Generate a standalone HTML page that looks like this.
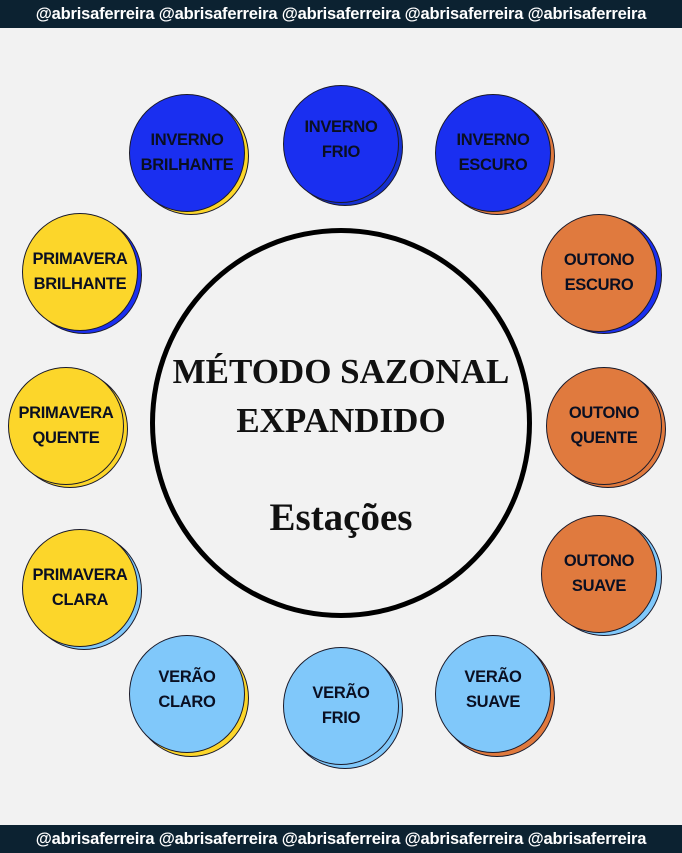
<!DOCTYPE html>
<html><head><meta charset="utf-8"><style>
body{margin:0;width:682px;height:853px;background:#f2f2f2;position:relative;overflow:hidden;font-family:"Liberation Sans",sans-serif}
.bar{position:absolute;left:0;width:682px;height:28px;background:#0c2231;color:#fff;font-weight:bold;font-size:16.5px;line-height:28px;text-align:center;white-space:nowrap;letter-spacing:-0.2px}
.c{position:absolute;width:116px;height:118px;border-radius:50%;border:1.5px solid #1a1a2a;box-sizing:border-box;display:flex;align-items:center;justify-content:center;text-align:center;font-weight:bold;font-size:16.5px;line-height:25px;color:#0a0f22;letter-spacing:-0.3px}
.s{position:absolute;width:116px;height:118px;border-radius:50%;border:1.5px solid #1a1a2a;box-sizing:border-box}
.b{background:#1a2ff0}.y{background:#fcd62a}.o{background:#e07a3e}.l{background:#80c8fa}
.big{position:absolute;left:150px;top:228px;width:382px;height:390px;border:5px solid #000;border-radius:50%;box-sizing:border-box}
.t{position:absolute;left:0;width:682px;text-align:center;font-family:"Liberation Serif",serif;font-weight:bold;color:#111}
</style></head><body>
<div class="bar" style="top:0">@abrisaferreira @abrisaferreira @abrisaferreira @abrisaferreira @abrisaferreira</div>
<div class="bar" style="top:825px">@abrisaferreira @abrisaferreira @abrisaferreira @abrisaferreira @abrisaferreira</div>

<div class="big"></div>
<div class="t" style="top:352px;font-size:35px">MÉTODO SAZONAL</div>
<div class="t" style="top:401px;font-size:35px">EXPANDIDO</div>
<div class="t" style="top:495px;font-size:39px">Estações</div>

<div class="s y" style="left:133px;top:97px"></div><div class="c b" style="left:129px;top:94px">INVERNO<br>BRILHANTE</div>
<div class="s b" style="left:287px;top:88px;background:#1530d0"></div><div class="c b" style="left:283px;top:85px;padding-bottom:8px">INVERNO<br>FRIO</div>
<div class="s o" style="left:439px;top:97px"></div><div class="c b" style="left:435px;top:94px">INVERNO<br>ESCURO</div>

<div class="s b" style="left:26px;top:216px"></div><div class="c y" style="left:22px;top:213px">PRIMAVERA<br>BRILHANTE</div>
<div class="s b" style="left:546px;top:216px"></div><div class="c o" style="left:541px;top:214px">OUTONO<br>ESCURO</div>

<div class="s y" style="left:12px;top:370px"></div><div class="c y" style="left:8px;top:367px">PRIMAVERA<br>QUENTE</div>
<div class="s o" style="left:550px;top:370px"></div><div class="c o" style="left:546px;top:367px">OUTONO<br>QUENTE</div>

<div class="s l" style="left:26px;top:532px"></div><div class="c y" style="left:22px;top:529px">PRIMAVERA<br>CLARA</div>
<div class="s l" style="left:546px;top:518px"></div><div class="c o" style="left:541px;top:515px">OUTONO<br>SUAVE</div>

<div class="s y" style="left:133px;top:639px"></div><div class="c l" style="left:129px;top:635px;padding-bottom:8px">VERÃO<br>CLARO</div>
<div class="s l" style="left:287px;top:651px"></div><div class="c l" style="left:283px;top:647px">VERÃO<br>FRIO</div>
<div class="s o" style="left:439px;top:639px"></div><div class="c l" style="left:435px;top:635px;padding-bottom:8px">VERÃO<br>SUAVE</div>
</body></html>
